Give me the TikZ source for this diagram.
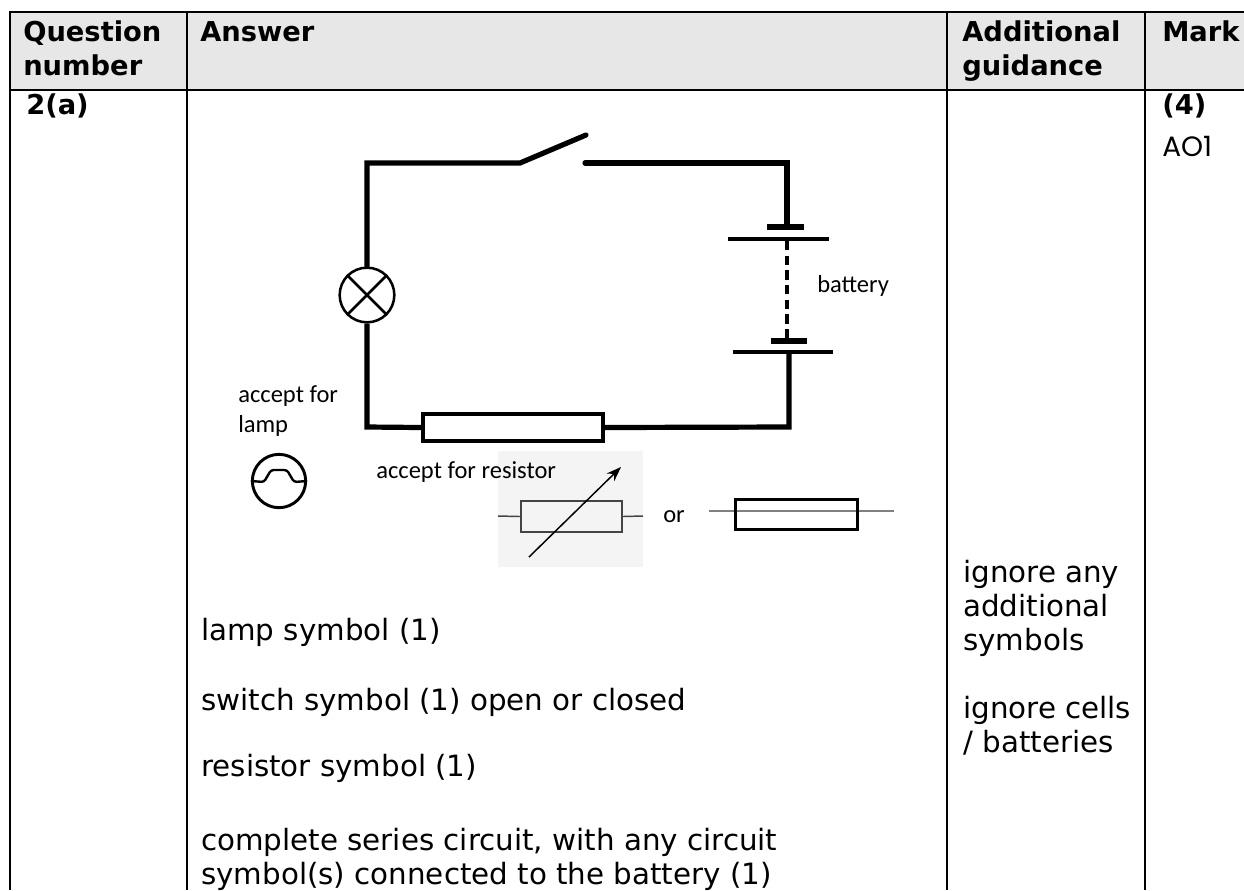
\documentclass[tikz,border=0pt]{standalone}
\usepackage{fontspec}
\setmainfont{DejaVu Sans}
\newfontfamily\calibri{Carlito}
\newfontfamily\gothic{Poppins}
\usetikzlibrary{arrows.meta}
\definecolor{headgray}{HTML}{E7E7E7}
\definecolor{figgray}{HTML}{F4F4F4}
\definecolor{symgray}{HTML}{444444}

\begin{document}
\begin{tikzpicture}[x=0.75pt, y=-0.75pt]
		\tikzstyle{every node}=[inner sep=0pt, anchor=base west, align=left]
		\tikzstyle{cell}=[font=\fontsize{22}{25.5}\selectfont]
		\tikzstyle{head}=[font=\fontsize{20.5}{25.5}\selectfont\bfseries]
		\tikzstyle{note}=[font=\calibri\fontsize{18.4}{22}\selectfont]
		\tikzstyle{grid}=[line width=2.2pt]
		\tikzstyle{wire}=[line width=3.9pt, line join=miter]
		\useasboundingbox (0,0) rectangle (1244,890);
		% table
		\fill[headgray] (10,12) rectangle (1244,90);
		\draw[grid] (10,890) -- (10,12) -- (1244,12);
		\draw[grid] (10,90) -- (1244,90);
		\foreach \cx in {187, 947, 1145}
			\draw[grid] (\cx,12) -- (\cx,890);
		% multi-line nodes sit on their last line
		\node[head] (hq) at (23,75) {Question\\number};
		\node[head] (ha) at (200,41) {Answer};
		\node[head] (hg) at (962,75) {Additional\\guidance};
		\node[head] (hm) at (1162,41) {Mark};
		\node[head] (qn) at (26,114) {2(a)};
		\node[head] (mk) at (1162,114) {(4)};
		\node[font=\gothic\fontsize{21}{22}\selectfont] (ao) at (1162,156) {AO1};
		% circuit
		\coordinate (tl) at (367,163);
		\coordinate (hinge) at (520,163);
		\coordinate (lever) at (586,135);
		\coordinate (contact) at (585,163);
		\coordinate (tr) at (787,163);
		\coordinate (cellA) at (787,227);
		\coordinate (cellB) at (789,352);
		\coordinate (br) at (789,427);
		\coordinate (bl) at (367,427);
		\node[draw, circle, minimum size=41pt, line width=1.9pt, anchor=center] (lamp) at (367,295) {};
		\draw[line width=1.9pt] (lamp.north west) -- (lamp.south east);
		\draw[line width=1.9pt] (lamp.north east) -- (lamp.south west);
		\node[draw, rectangle, minimum width=135pt, minimum height=20pt, line width=3pt, anchor=center] (res) at (513,427.5) {};
		\draw[wire, line cap=round] (lamp.north) -- (tl) -- (hinge) -- (lever);
		\draw[wire, line cap=round] (contact) -- (tr) -- (cellA);
		\draw[wire] (lamp.south) -- (bl) -- (res.west);
		\draw[wire] (res.east) -- (br) -- (cellB);
		% battery
		\draw[line width=3.8pt] (767,227) -- (804,227);
		\draw[line width=2.3pt] (728,239) -- (829,239);
		\draw[line width=3.2pt, dash pattern=on 7pt off 4pt] (787,241) -- (787,339);
		\draw[line width=3.8pt] (771,341) -- (807,341);
		\draw[line width=2.3pt] (733,352) -- (833,352);
		\node[note] (bat) at (817,292) {battery};
		% alternatives
		\node[note] (acl) at (238,432) {accept for\\lamp};
		\node[draw, circle, minimum size=40pt, line width=2.2pt, anchor=center] (alamp) at (279,481) {};
		\draw[line width=1.8pt, rounded corners=2pt] (alamp.west) -- (264,482) -- (271,470) -- (287,470) -- (294,482) -- (alamp.east);
		\fill[figgray] (498,451) rectangle (643,567);
		\node[note] (acr) at (376,478) {accept for resistor};
		\node[draw=symgray, rectangle, minimum width=76pt, minimum height=23pt, line width=1.1pt, anchor=center] (varres) at (571.5,516.5) {};
		\draw[symgray, line width=1.1pt] (498,516) -- (varres.west);
		\draw[symgray, line width=1.1pt] (varres.east) -- (643,516);
		\draw[line width=1.1pt, -{Stealth[length=11pt, width=8pt]}] (529,557) -- (621,467);
		\node[note] (or) at (663,522) {or};
		\draw[gray, line width=0.9pt] (709,511) -- (894,511);
		\node[draw, rectangle, minimum width=91pt, minimum height=23pt, line width=2.3pt, anchor=center] (altres) at (796.5,514.5) {};
		% marking points
		\node[cell] (p1) at (201,640) {lamp symbol (1)};
		\node[cell] (p2) at (201,710) {switch symbol (1) open or closed};
		\node[cell] (p3) at (201,776) {resistor symbol (1)};
		\node[cell] (p4) at (201,884) {complete series circuit, with any circuit\\symbol(s) connected to the battery (1)};
		\node[cell] (g1) at (963,650) {ignore any\\additional\\symbols};
		\node[cell] (g2) at (963,752) {ignore cells\\/ batteries};
\end{tikzpicture}
\end{document}
